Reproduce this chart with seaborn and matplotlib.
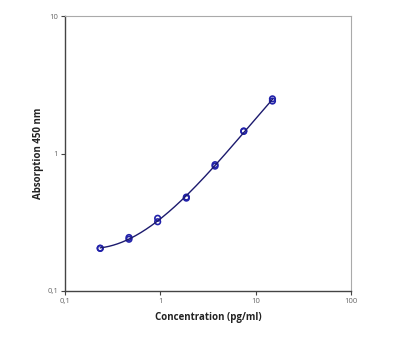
import numpy as np
import pandas as pd
import seaborn as sns
import matplotlib
matplotlib.use("Agg")
import matplotlib.pyplot as plt
from matplotlib.ticker import FixedLocator, FixedFormatter, NullLocator

# Data (duplicates per standard)
conc = [0.234, 0.234, 0.469, 0.469, 0.9375, 0.9375, 1.875, 1.875, 3.75, 3.75, 7.5, 7.5, 15, 15]
absorb = [0.204, 0.205, 0.245, 0.238, 0.338, 0.319, 0.474, 0.482, 0.81, 0.83, 1.46, 1.45, 2.50, 2.41]
xticks = [0.1, 1, 10, 100]
xticklabels = ["0,1", "1", "10", "100"]
yticks = [0.1, 1, 10]
yticklabels = ["0,1", "1", "10"]

df = pd.DataFrame({"conc": conc, "abs": absorb})

# smooth fit in log-log space derived from data
lx = np.log10(df["conc"].values)
ly = np.log10(df["abs"].values)
coef = np.polyfit(lx, ly, 3)
xs = np.logspace(np.log10(min(conc)), np.log10(max(conc)), 200)
fit = pd.DataFrame({"conc": xs, "abs": 10 ** np.polyval(coef, np.log10(xs))})

sns.set_style("white")
plt.rcParams["font.family"] = ["Open Sans", "DejaVu Sans"]

fig = plt.figure(figsize=(4, 3.5), dpi=100)
ax = fig.add_axes([0.1625, 0.1686, 0.715, 0.7854])

sns.lineplot(data=fit, x="conc", y="abs", ax=ax, color="#1c1a6e", linewidth=1.0)
sns.scatterplot(data=df, x="conc", y="abs", ax=ax, marker="o", s=16,
                facecolor="none", edgecolor="#2222aa", linewidth=1.2)

ax.set_xscale("log")
ax.set_yscale("log")
ax.set_xlim(0.1, 100)
ax.set_ylim(0.1, 10)
ax.xaxis.set_major_locator(FixedLocator(xticks))
ax.xaxis.set_major_formatter(FixedFormatter(xticklabels))
ax.yaxis.set_major_locator(FixedLocator(yticks))
ax.yaxis.set_major_formatter(FixedFormatter(yticklabels))
ax.xaxis.set_minor_locator(NullLocator())
ax.yaxis.set_minor_locator(NullLocator())
ax.tick_params(axis="both", which="major", direction="out", length=3, width=0.8,
               labelsize=5.5, labelcolor="#666666", color="#444444", pad=2,
               bottom=True, left=True)

for side in ["left", "bottom"]:
    ax.spines[side].set_color("#444444")
    ax.spines[side].set_linewidth(1.0)
for side in ["top", "right"]:
    ax.spines[side].set_color("#aaaaaa")
    ax.spines[side].set_linewidth(0.8)

ax.set_xlabel("Concentration (pg/ml)", fontsize=7, fontweight="bold", color="#222222", labelpad=5)
ax.set_ylabel("Absorption 450 nm", fontsize=7, fontweight="bold", color="#222222", labelpad=2)

fig.savefig("out.png", dpi=100)
